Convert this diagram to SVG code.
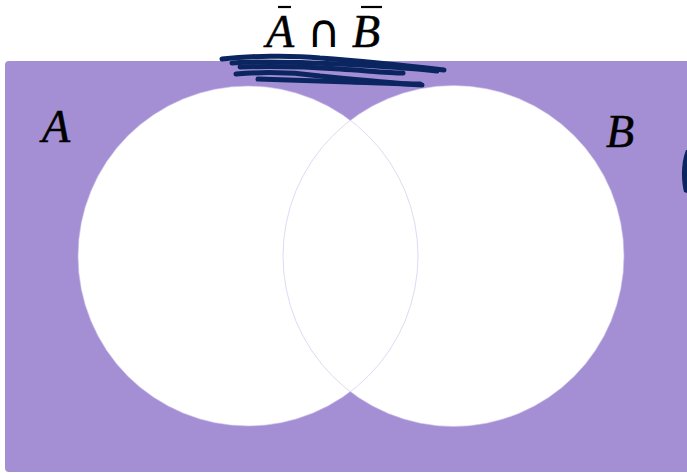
<svg xmlns="http://www.w3.org/2000/svg" width="687" height="473" viewBox="0 0 687 473">
<style>
.m{font-family:"Liberation Serif","DejaVu Serif",serif;font-style:italic;font-size:46px;fill:#000;stroke:#000;stroke-width:0.5}
.op{font-family:"DejaVu Sans","Liberation Serif",serif;font-size:46px;fill:#000}
.circ{fill:#fff}
.edge{fill:none;stroke:#c9c0ea;stroke-width:0.6}
.ink{fill:none;stroke:#0b2560;stroke-width:5;stroke-linecap:round;stroke-linejoin:round}
.bar{stroke:#000;stroke-width:2.2}
</style>
<rect width="687" height="473" fill="#fff"/>
<g id="universe">
<rect x="5" y="61" width="700" height="411" rx="4" fill="#a48fd4"/>
</g>
<g id="setA">
<circle class="circ" cx="248" cy="256" r="170"/>
</g>
<g id="setB">
<circle class="circ" cx="453.5" cy="256" r="170.5"/>
</g>
<g id="outlines">
<circle class="edge" cx="248" cy="256" r="170"/>
<circle class="edge" cx="453.5" cy="256" r="170.5"/>
</g>
<g id="title">
<text class="m" x="266" y="47">A</text>
<line class="bar" x1="278" y1="7" x2="291" y2="7"/>
<text class="op" x="307" y="47">∩</text>
<text class="m" x="352" y="47">B</text>
<line class="bar" x1="361" y1="7" x2="382" y2="7"/>
</g>
<g id="labelA"><text class="m" x="42" y="142">A</text></g>
<g id="labelB"><text class="m" x="606" y="147">B</text></g>
<g id="connectors">
<path class="ink" d="M222,59 C250,56 290,55 320,58 C360,61 400,65 444,70"/>
<path class="ink" d="M240,67 C270,66 310,67 340,69 C370,71 390,73 403,73"/>
<path class="ink" d="M236,74 C260,72 290,72 320,76 C350,79 390,83 422,85"/>
<path class="ink" d="M258,79 C290,80 320,81 350,82 C380,83 400,84 420,84"/>
<path class="ink" d="M232,63 C260,61 300,62 340,64 C380,66 410,68 437,71"/>
<path d="M686,150 C681,162 681,180 684,192 L690,194 L690,150 Z" fill="#0b2560"/>
</g>
</svg>
